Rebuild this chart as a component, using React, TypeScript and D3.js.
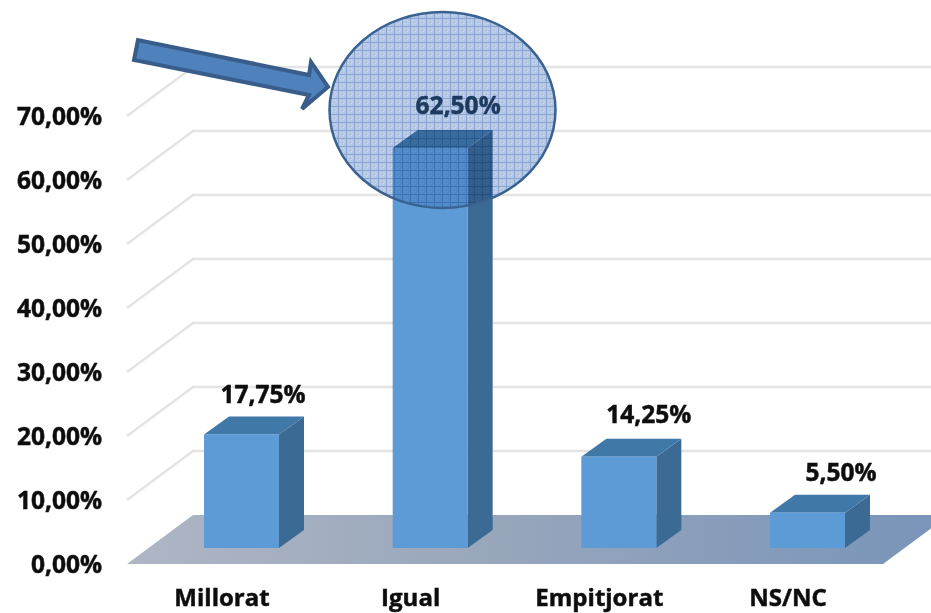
import React from "react";
import * as d3 from "d3";

const categories = ["Millorat", "Igual", "Empitjorat", "NS/NC"];
const seriesValues = [17.75, 62.5, 14.25, 5.5];
const valueLabels = ["17,75%", "62,50%", "14,25%", "5,50%"];
const tickValues = [0, 10, 20, 30, 40, 50, 60, 70];
const tickLabels = ["0,00%", "10,00%", "20,00%", "30,00%", "40,00%", "50,00%", "60,00%", "70,00%"];

const W = 931, H = 613;
const FONT = "'Open Sans', 'Noto Sans', sans-serif";
const wall = d3.scaleLinear().domain([0, 70]).range([564, 116]);
const barY = d3.scaleLinear().domain([0, 70]).range([548, 100]);
const xCenter = d3.scalePoint<string>().domain(categories).range([241.5, 807.5]);
const BAR_W = 75, DX = 25, DY = -18;
const labelDx = [21.5, 28, 30, 33.5];
const labelDy = [-40, -43, -42, -40];
const poly = (pts: number[][]) => pts.map(p => p.join(",")).join(" ");

export default function App() {
  const backDx = 66, backDy = -49;
  const textStyle = { fontFamily: FONT, fontWeight: 700, stroke: "currentColor", strokeWidth: 0.5 } as const;
  return (
    <svg width={W} height={H} viewBox={`0 0 ${W} ${H}`} style={{ position: "absolute", left: 0, top: 0, background: "#fff" }}>
      <defs>
        <linearGradient id="floor" x1="0" x2="1" y1="0" y2="0">
          <stop offset="0" stopColor="#aeb6c4" />
          <stop offset="0.45" stopColor="#98a6bc" />
          <stop offset="1" stopColor="#7894b9" />
        </linearGradient>
        <pattern id="weave" width="8" height="8" patternUnits="userSpaceOnUse" x="2" y="2">
          <rect width="8" height="8" fill="#e0e5ee" />
          <path d="M0 0.5H8M0.5 0V8" stroke="#a6bcdc" strokeWidth="1" />
          <path d="M2 2h1v1h-1zM5 2h1v1h-1zM2 5h1v1h-1zM5 5h1v1h-1z" fill="#f4f6fa" />
          <path d="M3.5 3.5h1v1h-1zM6.5 6.5h1v1h-1z" fill="#c8d4e6" />
        </pattern>
        <filter id="soft" x="-5%" y="-5%" width="110%" height="110%">
          <feGaussianBlur stdDeviation="0.45" />
        </filter>
      </defs>

      <g filter="url(#soft)">
        {tickValues.slice(1).map(v => (
          <polyline key={v} fill="none" stroke="#e4e4e4" strokeWidth={2.5}
            points={poly([[127, wall(v)], [127 + backDx, wall(v) + backDy], [W + 5, wall(v) + backDy]])} />
        ))}

        <polygon fill="url(#floor)"
          points={poly([[127, wall(0)], [127 + backDx, wall(0) + backDy], [883 + backDx, wall(0) + backDy], [883, wall(0)]])} />
      </g>

      <ellipse cx={442.5} cy={110} rx={113} ry={98} fill="#d2e0f5" />

      <g filter="url(#soft)">
        {categories.map((c, i) => {
          const x0 = xCenter(c)! - BAR_W / 2, x1 = x0 + BAR_W;
          const y0 = barY(0), y1 = barY(seriesValues[i]);
          return (
            <g key={c}>
              <polygon fill="#3b6a94" points={poly([[x1, y0], [x1 + DX, y0 + DY], [x1 + DX, y1 + DY], [x1, y1]])} />
              <polygon fill="#4178a8" points={poly([[x0, y1], [x0 + DX, y1 + DY], [x1 + DX, y1 + DY], [x1, y1]])} />
              <rect x={x0} y={y1} width={BAR_W} height={y0 - y1} fill="#5b9bd5" />
            </g>
          );
        })}
      </g>

      <ellipse cx={442.5} cy={110} rx={113} ry={98} fill="url(#weave)" style={{ mixBlendMode: "multiply" }} />
      <ellipse cx={442.5} cy={110} rx={113} ry={98} fill="none" stroke="#3a6291" strokeWidth={2.5} />

      <polygon fill="#4f81bd" stroke="#385d8a" strokeWidth={4} strokeLinejoin="miter"
        points={poly([[138, 40], [134, 60], [309, 95], [302, 109], [328, 87], [311, 62], [309, 75]])} />

      <g filter="url(#soft)">
        {tickValues.map((v, i) => (
          <text key={v} x={102} y={wall(v)} dy="0.35em" textAnchor="end" {...textStyle} color="#111" fontSize={24.5} fill="#111">{tickLabels[i]}</text>
        ))}

        {categories.map((c, i) => (
          <text key={c} x={xCenter(c)! - 19.5} y={598} dy="0.35em" textAnchor="middle" {...textStyle} color="#111" fontSize={24} fill="#111">{c}</text>
        ))}

        {categories.map((c, i) => (
          <text key={c} x={xCenter(c)! + labelDx[i]} y={barY(seriesValues[i]) + labelDy[i]} dy="0.35em" textAnchor="middle"
            {...textStyle} color={i === 1 ? "#1f3a5f" : "#111"} fontSize={24.5} fill={i === 1 ? "#1f3a5f" : "#111"}>{valueLabels[i]}</text>
        ))}
      </g>
    </svg>
  );
}
